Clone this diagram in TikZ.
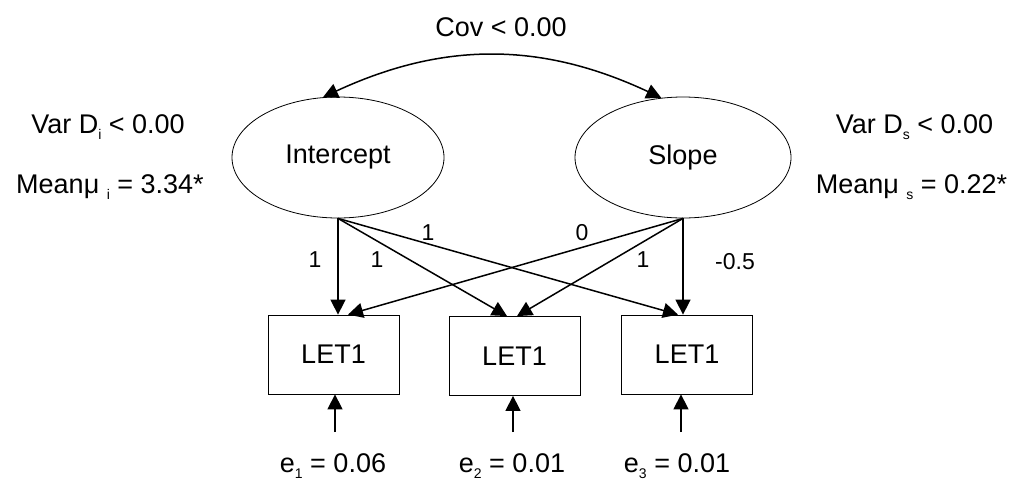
\documentclass[tikz,border=0pt]{standalone}
\usepackage{fontspec}
\setmainfont{Liberation Sans}
\usetikzlibrary{arrows.meta,shapes.geometric,calc}
\newcommand\lowidx[1]{\raisebox{-6.5pt}{\fontsize{14}{14}\selectfont #1}}
\begin{document}
\begin{tikzpicture}[x=1pt,y=-1pt,
  every node/.style={font=\fontsize{27}{31}\selectfont},
  latent/.style={ellipse, draw, line width=0.8pt, minimum width=212pt, minimum height=121pt, inner sep=0pt},
  obs/.style={rectangle, draw, line width=0.8pt, minimum width=131pt, minimum height=79pt, inner sep=0pt},
  pathline/.style={line width=1.5pt, -{Triangle[length=15pt,width=15pt]}},
  lbl/.style={font=\fontsize{23}{27}\selectfont, inner sep=0pt}
]
\useasboundingbox (0,0) rectangle (1016,480);

% latent variables
\node[latent] (I) at (338,157.5) {Intercept};
\node[latent, minimum width=216pt] (S) at (683,157.5) {Slope};

% observed
\node[obs] (L1) at (333.5,354.5) {LET1};
\node[obs] (L2) at (514.5,356) {LET1};
\node[obs] (L3) at (687,354.5) {LET1};

% covariance
\node (cov) at (501,27) {Cov < 0.00};
\draw[line width=1.5pt, {Triangle[length=15pt,width=15pt]}-{Triangle[length=15pt,width=15pt]}]
  (I.104) to[bend left=25] (S.110);

% side labels
\node[anchor=base] (vi) at (108,133) {Var D\lowidx{i} < 0.00};
\node[anchor=base] (mi) at (110,193) {Meanμ \lowidx{i} = 3.34*};
\node[anchor=base] (vs) at (914.5,133) {Var D\lowidx{s} < 0.00};
\node[anchor=base] (ms) at (911.5,193) {Meanμ \lowidx{s} = 0.22*};

% loadings
\draw[pathline] (I.south) -- (I.south |- L1.north);
\draw[pathline] (I.south) -- ($(L2.north)+(-7.5,0)$);
\draw[pathline] (I.south) -- ($(L3.north)+(-9,0)$);
\draw[pathline] (S.south) -- ($(L1.north)+(14.5,0)$);
\draw[pathline] (S.south) -- ($(L2.north)+(2.5,0)$);
\draw[pathline] (S.south) -- (S.south |- L3.north);

\node[lbl] (a1) at (315,260) {1};
\node[lbl] (a2) at (377,260) {1};
\node[lbl] (a3) at (428,233) {1};
\node[lbl] (b1) at (582,233) {0};
\node[lbl] (b2) at (643,260) {1};
\node[lbl] (b3) at (735,262) {-0.5};

% errors
\node[anchor=base] (e1) at (333,472) {e\lowidx{1} = 0.06};
\node[anchor=base] (e2) at (512,472) {e\lowidx{2} = 0.01};
\node[anchor=base] (e3) at (677,472) {e\lowidx{3} = 0.01};
\coordinate (e1s) at (335,432);
\coordinate (e2s) at (513,432);
\coordinate (e3s) at (681,432);
\draw[pathline] (e1s) -- (e1s |- L1.south);
\draw[pathline] (e2s) -- (e2s |- L2.south);
\draw[pathline] (e3s) -- (e3s |- L3.south);
\end{tikzpicture}
\end{document}
